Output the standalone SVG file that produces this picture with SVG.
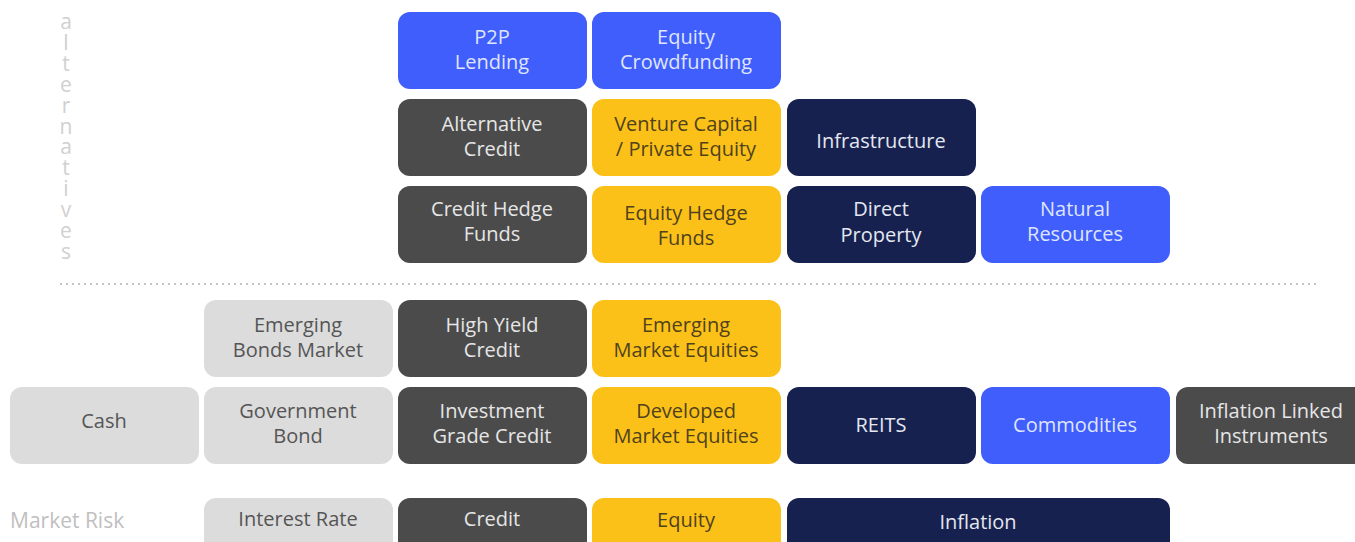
<svg xmlns="http://www.w3.org/2000/svg" width="1355" height="542" viewBox="0 0 1355 542">
<style>
  text { font-family: "Open Sans", "Noto Sans", "Liberation Sans", sans-serif; font-size: 20px; text-anchor: middle; }
  .blue rect { fill: #3f5efb; } .blue text { fill: #dfe5ff; }
  .navy rect { fill: #16214f; } .navy text { fill: #e4e7f0; }
  .yel rect { fill: #fcc118; } .yel text { fill: #4f421c; }
  .dg rect { fill: #4b4b4b; } .dg text { fill: #e6e6e6; }
  .lg rect { fill: #dcdcdc; } .lg text { fill: #555555; }
  .lbl { fill: #c0c0c0; text-anchor: start; font-size: 21px; }
  .vert { fill: #d0d0d0; font-size: 21px; writing-mode: vertical-rl; text-orientation: upright; text-anchor: start; letter-spacing: -7.1px; }
</style>
<rect width="1355" height="542" fill="#ffffff"/>

<g id="label-alternatives">
  <text class="vert" x="66" y="7">alternatives</text>
</g>

<g id="connectors">
  <line x1="60" y1="284" x2="1318" y2="284" stroke="#c4c4c4" stroke-width="2" stroke-dasharray="2 4"/>
</g>

<!-- Row A -->
<g id="p2p-lending" class="blue"><rect x="398" y="12" width="189" height="77" rx="12"/><text><tspan x="492" y="43.5">P2P</tspan><tspan x="492" y="68.5">Lending</tspan></text></g>
<g id="equity-crowdfunding" class="blue"><rect x="592" y="12" width="189" height="77" rx="12"/><text><tspan x="686" y="43.5">Equity</tspan><tspan x="686" y="68.5">Crowdfunding</tspan></text></g>

<!-- Row B -->
<g id="alternative-credit" class="dg"><rect x="398" y="99" width="189" height="77" rx="12"/><text><tspan x="492" y="130.5">Alternative</tspan><tspan x="492" y="155.5">Credit</tspan></text></g>
<g id="venture-capital" class="yel"><rect x="592" y="99" width="189" height="77" rx="12"/><text><tspan x="686" y="131">Venture Capital</tspan><tspan x="686" y="156">/ Private Equity</tspan></text></g>
<g id="infrastructure" class="navy"><rect x="787" y="99" width="189" height="77" rx="12"/><text x="881" y="148">Infrastructure</text></g>

<!-- Row C -->
<g id="credit-hedge-funds" class="dg"><rect x="398" y="186" width="189" height="77" rx="12"/><text><tspan x="492" y="216">Credit Hedge</tspan><tspan x="492" y="241">Funds</tspan></text></g>
<g id="equity-hedge-funds" class="yel"><rect x="592" y="186" width="189" height="77" rx="12"/><text><tspan x="686" y="220">Equity Hedge</tspan><tspan x="686" y="245">Funds</tspan></text></g>
<g id="direct-property" class="navy"><rect x="787" y="186" width="189" height="77" rx="12"/><text><tspan x="881" y="216">Direct</tspan><tspan x="881" y="242">Property</tspan></text></g>
<g id="natural-resources" class="blue"><rect x="981" y="186" width="189" height="77" rx="12"/><text><tspan x="1075" y="216">Natural</tspan><tspan x="1075" y="241">Resources</tspan></text></g>

<!-- Row D -->
<g id="emerging-bonds-market" class="lg"><rect x="204" y="300" width="189" height="77" rx="12"/><text><tspan x="298" y="331.5">Emerging</tspan><tspan x="298" y="356.5">Bonds Market</tspan></text></g>
<g id="high-yield-credit" class="dg"><rect x="398" y="300" width="189" height="77" rx="12"/><text><tspan x="492" y="331.5">High Yield</tspan><tspan x="492" y="356.5">Credit</tspan></text></g>
<g id="emerging-market-equities" class="yel"><rect x="592" y="300" width="189" height="77" rx="12"/><text><tspan x="686" y="332">Emerging</tspan><tspan x="686" y="357">Market Equities</tspan></text></g>

<!-- Row E -->
<g id="cash" class="lg"><rect x="10" y="387" width="189" height="77" rx="12"/><text x="104" y="428">Cash</text></g>
<g id="government-bond" class="lg"><rect x="204" y="387" width="189" height="77" rx="12"/><text><tspan x="298" y="418">Government</tspan><tspan x="298" y="443">Bond</tspan></text></g>
<g id="investment-grade-credit" class="dg"><rect x="398" y="387" width="189" height="77" rx="12"/><text><tspan x="492" y="418">Investment</tspan><tspan x="492" y="443">Grade Credit</tspan></text></g>
<g id="developed-market-equities" class="yel"><rect x="592" y="387" width="189" height="77" rx="12"/><text><tspan x="686" y="418">Developed</tspan><tspan x="686" y="443">Market Equities</tspan></text></g>
<g id="reits" class="navy"><rect x="787" y="387" width="189" height="77" rx="12"/><text x="881" y="432">REITS</text></g>
<g id="commodities" class="blue"><rect x="981" y="387" width="189" height="77" rx="12"/><text x="1075" y="432">Commodities</text></g>
<g id="inflation-linked" class="dg"><rect x="1176" y="387" width="190" height="77" rx="12"/><text><tspan x="1271" y="418">Inflation Linked</tspan><tspan x="1271" y="443">Instruments</tspan></text></g>

<!-- Row F -->
<g id="market-risk"><text class="lbl" x="10" y="528">Market Risk</text></g>
<g id="interest-rate" class="lg"><rect x="204" y="498" width="189" height="77" rx="12"/><text x="298" y="526">Interest Rate</text></g>
<g id="credit" class="dg"><rect x="398" y="498" width="189" height="77" rx="12"/><text x="492" y="526">Credit</text></g>
<g id="equity" class="yel"><rect x="592" y="498" width="189" height="77" rx="12"/><text x="686" y="527">Equity</text></g>
<g id="inflation" class="navy"><rect x="787" y="498" width="383" height="77" rx="12"/><text x="978" y="529">Inflation</text></g>
</svg>
